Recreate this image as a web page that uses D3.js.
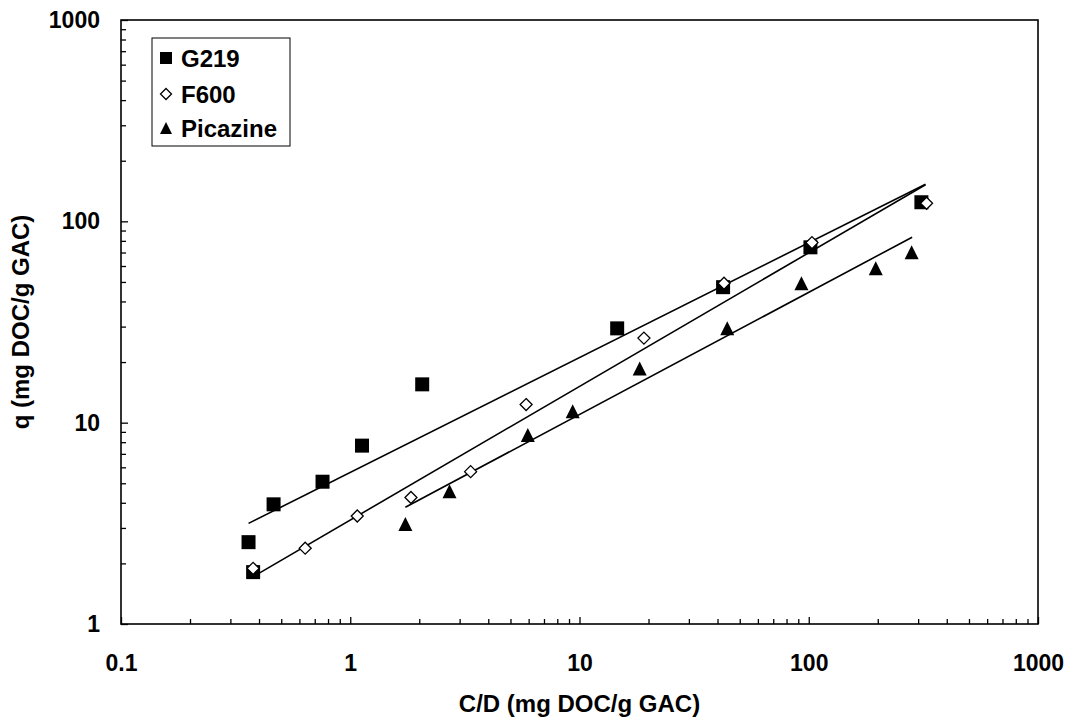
<!DOCTYPE html>
<html>
<head>
<meta charset="utf-8">
<script src="https://cdn.jsdelivr.net/npm/d3@7"></script>
<style>
  body { margin: 0; background: #fff; }
  svg text { font-family: "Liberation Sans", Arial, sans-serif; font-weight: bold; fill: #000; }
</style>
</head>
<body>
<svg width="1073" height="721"></svg>
<script>
// measured values (C/D, q)
var g219X = [0.360, 0.377, 0.463, 0.757, 1.125, 2.06, 14.6, 42.3, 101.7, 310];
var g219Y = [2.55, 1.81, 3.93, 5.09, 7.69, 15.5, 29.4, 47.1, 74.3, 124.4];
var f600X = [0.377, 0.636, 1.073, 1.84, 3.35, 5.85, 19.1, 42.7, 103.3, 326.5];
var f600Y = [1.89, 2.38, 3.44, 4.25, 5.71, 12.3, 26.3, 49.3, 78.4, 123];
var picX = [1.74, 2.71, 5.95, 9.34, 18.3, 44.1, 92.9, 196, 281];
var picY = [3.14, 4.56, 8.69, 11.4, 18.6, 29.4, 49.3, 58.5, 70.2];

// fitted lines, end points
var g219FitX = [0.360, 323];
var g219FitY = [3.16, 152.9];
var f600FitX = [0.401, 323];
var f600FitY = [1.79, 152.0];
var picFitX = [1.74, 282.5];
var picFitY = [3.80, 83.4];

var xTicks = [0.1, 1, 10, 100, 1000];
var xTickLabels = ['0.1', '1', '10', '100', '1000'];
var yTicks = [1, 10, 100, 1000];
var yTickLabels = ['1', '10', '100', '1000'];
var seriesNames = ['G219', 'F600', 'Picazine'];

var svg = d3.select('svg');
var pL = 121, pR = 1038, pT = 20, pB = 624;      // plot frame

var x = d3.scaleLog().domain([0.1, 1000]).range([pL, pR]);
var y = d3.scaleLog().domain([1, 1000]).range([pB, pT]);

function minorOf(scale, majors){
	return scale.ticks().filter(function(d){ return majors.indexOf(d) < 0; });
}

// minor ticks
svg.append('g')
   .attr('transform', 'translate(0,' + pB + ')')
   .call(d3.axisBottom(x).tickValues(minorOf(x, xTicks)).tickSize(-5).tickFormat(''))
   .call(function(g){ g.select('.domain').remove(); });
svg.append('g')
   .attr('transform', 'translate(' + pL + ',0)')
   .call(d3.axisLeft(y).tickValues(minorOf(y, yTicks)).tickSize(-5).tickFormat(''))
   .call(function(g){ g.select('.domain').remove(); });

// major ticks + labels
var xa = svg.append('g')
   .attr('transform', 'translate(0,' + pB + ')')
   .call(d3.axisBottom(x).tickValues(xTicks).tickSize(-7).tickPadding(31)
          .tickFormat(function(d, i){ return xTickLabels[i]; }));
xa.select('.domain').remove();
var ya = svg.append('g')
   .attr('transform', 'translate(' + pL + ',0)')
   .call(d3.axisLeft(y).tickValues(yTicks).tickSize(-7).tickPadding(21)
          .tickFormat(function(d, i){ return yTickLabels[i]; }));
ya.select('.domain').remove();

svg.selectAll('.tick line').attr('stroke', '#000').attr('stroke-width', 1.3);
svg.selectAll('.tick text').style('font-size', '23px').attr('fill', '#000');

// frame
svg.append('rect')
   .attr('x', pL).attr('y', pT)
   .attr('width', pR - pL).attr('height', pB - pT)
   .attr('fill', 'none').attr('stroke', '#000').attr('stroke-width', 1.6);

// fit lines
var line = d3.line().x(function(d){ return x(d[0]); }).y(function(d){ return y(d[1]); });
[[g219FitX, g219FitY], [f600FitX, f600FitY], [picFitX, picFitY]].forEach(function(s){
	svg.append('path')
	   .attr('d', line(d3.zip(s[0], s[1])))
	   .attr('fill', 'none').attr('stroke', '#000').attr('stroke-width', 1.6);
});

// marker shapes
function square(s){ return 'M' + (-s/2) + ',' + (-s/2) + 'h' + s + 'v' + s + 'h' + (-s) + 'Z'; }
function diamond(s){ var h = s/2; return 'M0,' + (-h) + 'L' + h + ',0L0,' + h + 'L' + (-h) + ',0Z'; }
function triangle(s){ var h = s/2; return 'M0,' + (-h) + 'L' + h + ',' + h + 'L' + (-h) + ',' + h + 'Z'; }

function addPoints(xs, ys, shape, size, fill){
	svg.append('g').selectAll('path')
	   .data(d3.zip(xs, ys))
	   .enter().append('path')
	   .attr('transform', function(d){ return 'translate(' + x(d[0]) + ',' + y(d[1]) + ')'; })
	   .attr('d', shape(size))
	   .attr('fill', fill)
	   .attr('stroke', '#000')
	   .attr('stroke-width', fill === '#fff' ? 1.3 : 0);
}
addPoints(g219X, g219Y, square, 14, '#000');
addPoints(f600X, f600Y, diamond, 12, '#fff');
addPoints(picX, picY, triangle, 14, '#000');

// legend
var lg = svg.append('g');
lg.append('rect')
  .attr('x', 152).attr('y', 38).attr('width', 138).attr('height', 108)
  .attr('fill', '#fff').attr('stroke', '#000').attr('stroke-width', 1);
var legShapes = [[square, 12, '#000'], [diamond, 11, '#fff'], [triangle, 12, '#000']];
var legRows = [58, 94, 128];
seriesNames.forEach(function(name, i){
	var sh = legShapes[i];
	lg.append('path')
	  .attr('transform', 'translate(166,' + legRows[i] + ')')
	  .attr('d', sh[0](sh[1]))
	  .attr('fill', sh[2]).attr('stroke', '#000')
	  .attr('stroke-width', sh[2] === '#fff' ? 1.3 : 0);
	lg.append('text')
	  .attr('x', 181).attr('y', legRows[i] + 8.5)
	  .style('font-size', '24px')
	  .text(name);
});

// axis titles
svg.append('text')
   .attr('x', (pL + pR) / 2).attr('y', 712)
   .attr('text-anchor', 'middle')
   .style('font-size', '24px')
   .text('C/D (mg DOC/g GAC)');
svg.append('text')
   .attr('transform', 'translate(29,' + ((pT + pB) / 2) + ') rotate(-90)')
   .attr('text-anchor', 'middle')
   .style('font-size', '24px')
   .text('q (mg DOC/g GAC)');
</script>
</body>
</html>
